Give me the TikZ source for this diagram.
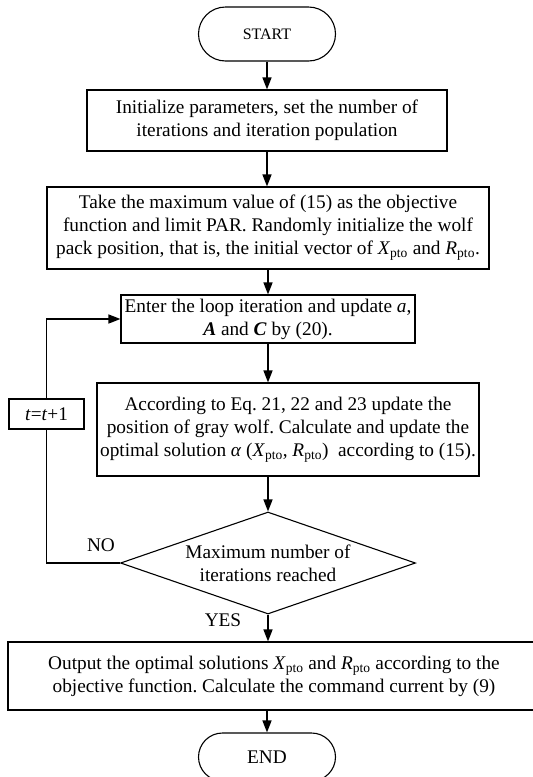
\documentclass[tikz,border=0pt]{standalone}
\usepackage{fontspec}
\setmainfont{Liberation Serif}
\usetikzlibrary{shapes.geometric,arrows.meta}
\newcommand{\pto}[1]{\textit{#1}\textsubscript{pto}}
\frenchspacing
\begin{document}
\begin{tikzpicture}[x=1pt,y=-1pt,
  every node/.style={font=\fontsize{19.3}{23}\selectfont, align=center, inner sep=0pt},
  procbox/.style={draw, line width=1.1pt, minimum width=#1},
  term/.style={draw, line width=1.1pt, rounded corners=24pt, minimum width=137pt},
  conn/.style={line width=1.4pt, -{Triangle[length=12pt,width=9pt]}},
  plain/.style={line width=1.4pt}
]
\useasboundingbox (0,0) rectangle (533,777);
\begin{scope}
\clip (0,0) rectangle (533,777);
\node[term, minimum height=54pt, rounded corners=27pt, font=\fontsize{16}{18}\selectfont] (start) at (267,34) {START};
\node[procbox=360pt, minimum height=61pt] (b1) at (267,120.5) {Initialize parameters, set the number of\\iterations and iteration population};
\node[procbox=442pt, minimum height=82pt] (b2) at (268,228) {Take the maximum value of (15) as the objective\\function and limit PAR. Randomly initialize the wolf\\pack position, that is, the initial vector of \pto{X} and \pto{R}.};
\node[procbox=294pt, minimum height=48pt] (b3) at (268,319) {Enter the loop iteration and update \textit{a},\\\textbf{\textit{A}} and \textbf{\textit{C}} by (20).};
\node[procbox=382pt, minimum height=93pt] (b4) at (288,429.5) {According to Eq. 21, 22 and 23 update the\\position of gray wolf. Calculate and update the\\optimal solution \textit{α} (\pto{X}, \pto{R})\ \ according to (15).};
\node[draw, diamond, line width=1.1pt, aspect=2.9, minimum width=295pt, minimum height=102pt] (dec) at (268,563) {Maximum number of\\iterations reached};
\node[procbox=75pt, minimum height=30pt] (tt) at (46.5,414) {\textit{t}=\textit{t}+1};
\node[procbox=532pt, minimum height=68pt] (b5) at (274,676) {Output the optimal solutions \pto{X} and \pto{R} according to the\\objective function. Calculate the command current by (9)};
\node[term, minimum height=48pt] (end) at (267,757) {END};
\node (no) at (101,545) {NO};
\node (yes) at (223,620) {YES};

\draw[conn] (start.south) -- (start.south |- b1.north);
\draw[conn] (b1.south) -- (b1.south |- b2.north);
\draw[conn] (b2.south) -- (b2.south |- b3.north);
\draw[conn] (b3.south) -- (b3.south |- b4.north);
\draw[conn] (dec.north |- b4.south) -- (dec.north);
\draw[conn] (dec.south) -- (dec.south |- b5.north);
\draw[conn] (end.north |- b5.south) -- (end.north);
\draw[plain] (dec.west) -- (dec.west -| tt.south) -- (tt.south);
\draw[conn] (tt.north) |- (b3.west);
\end{scope}
\end{tikzpicture}
\end{document}
